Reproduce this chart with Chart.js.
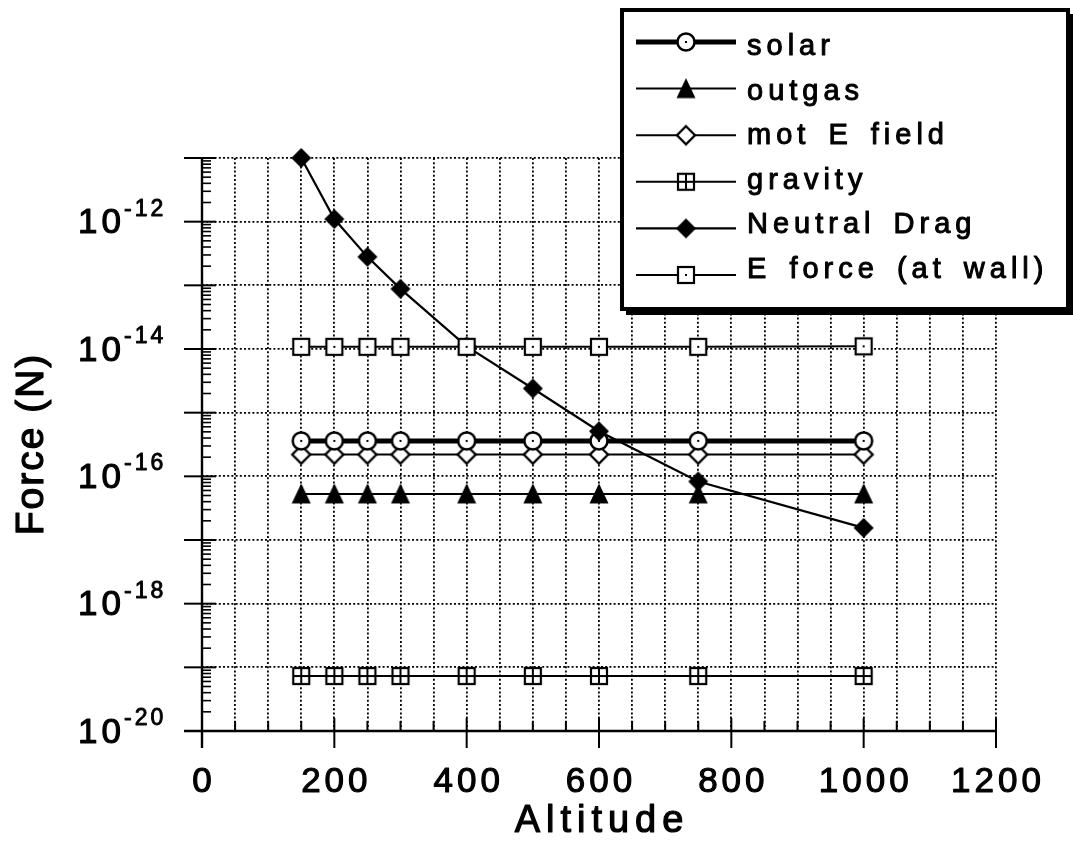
<!DOCTYPE html>
<html><head><meta charset="utf-8">
<script src="https://cdn.jsdelivr.net/npm/chart.js@4.4.1/dist/chart.umd.min.js"></script>
<style>html,body{margin:0;padding:0;background:#fff;overflow:hidden}canvas{display:block}</style>
</head><body>
<canvas id="c" width="1073" height="841"></canvas>
<script>
// ---- data ----
const altitude = [150, 200, 250, 300, 400, 500, 600, 750, 1000];
const solar = [3.6e-16, 3.6e-16, 3.6e-16, 3.6e-16, 3.6e-16, 3.6e-16, 3.6e-16, 3.6e-16, 3.6e-16];
const outgas = [5.3e-17, 5.3e-17, 5.3e-17, 5.3e-17, 5.3e-17, 5.3e-17, 5.3e-17, 5.3e-17, 5.3e-17];
const motEField = [2.2e-16, 2.2e-16, 2.2e-16, 2.2e-16, 2.2e-16, 2.2e-16, 2.2e-16, 2.2e-16, 2.2e-16];
const gravity = [7.3e-20, 7.3e-20, 7.3e-20, 7.3e-20, 7.3e-20, 7.3e-20, 7.3e-20, 7.3e-20, 7.3e-20];
const neutralDrag = [1.0e-11, 1.1e-12, 2.8e-13, 8.8e-14, 1.1e-14, 2.4e-15, 5.1e-16, 8.3e-17, 1.55e-17];
const eForceWall = [1.08e-14, 1.08e-14, 1.08e-14, 1.08e-14, 1.08e-14, 1.08e-14, 1.08e-14, 1.08e-14, 1.1e-14];
const seriesNames = ['solar', 'outgas', 'mot E field', 'gravity', 'Neutral Drag', 'E force (at wall)'];
const xTickLabels = [0, 200, 400, 600, 800, 1000, 1200];
const yTickBase = '10';
const yTickExponents = [-12, -14, -16, -18, -20];
const xTitle = 'Altitude';
const yTitle = 'Force (N)';

const FONT = '"Liberation Sans", Arial, Helvetica, sans-serif';

// ---- marker images ----
function mk(size, draw) {
  const c = document.createElement('canvas');
  c.width = size; c.height = size;
  const g = c.getContext('2d');
  g.strokeStyle = '#000'; g.fillStyle = '#000';
  draw(g, size / 2);
  return c;
}
const mCircle = mk(22, (g, m) => {
  g.beginPath(); g.arc(m, m, 8.5, 0, Math.PI * 2);
  g.fillStyle = '#fff'; g.fill(); g.lineWidth = 2.5; g.stroke();
  g.fillStyle = '#000'; g.fillRect(m - 1, m - 1, 2, 2);
});
const mTriangle = mk(24, (g, m) => {
  g.beginPath(); g.moveTo(m, m - 10.5); g.lineTo(m + 9.5, m + 9.5); g.lineTo(m - 9.5, m + 9.5); g.closePath(); g.fill();
});
const mDiamondOpen = mk(24, (g, m) => {
  g.beginPath(); g.moveTo(m, m - 9); g.lineTo(m + 9, m); g.lineTo(m, m + 9); g.lineTo(m - 9, m); g.closePath();
  g.fillStyle = '#fff'; g.fill(); g.lineWidth = 2.3; g.stroke();
});
const mSquareCross = mk(22, (g, m) => {
  g.fillStyle = '#fff'; g.fillRect(m - 8, m - 8, 16, 16);
  g.lineWidth = 2.2; g.strokeRect(m - 8, m - 8, 16, 16);
  g.beginPath(); g.moveTo(m, m - 8); g.lineTo(m, m + 8); g.moveTo(m - 8, m); g.lineTo(m + 8, m); g.lineWidth = 2; g.stroke();
});
const mDiamondFilled = mk(24, (g, m) => {
  g.beginPath(); g.moveTo(m, m - 10); g.lineTo(m + 10, m); g.lineTo(m, m + 10); g.lineTo(m - 10, m); g.closePath(); g.fill();
});
const mSquareDot = mk(22, (g, m) => {
  g.fillStyle = '#fff'; g.fillRect(m - 8, m - 8, 16, 16);
  g.lineWidth = 2.2; g.strokeRect(m - 8, m - 8, 16, 16);
  g.fillStyle = '#000'; g.fillRect(m - 1, m - 1, 2, 2);
});
const markers = [mCircle, mTriangle, mDiamondOpen, mSquareCross, mDiamondFilled, mSquareDot];
const lineWidths = [5, 2, 2, 2, 2.2, 2];
const drawOrder = [2, 4, 3, 5, 1, 0];
const seriesValues = [solar, outgas, motEField, gravity, neutralDrag, eForceWall];

const datasets = seriesNames.map((name, i) => ({
  label: name,
  data: altitude.map((a, j) => ({ x: a, y: seriesValues[i][j] })),
  borderColor: '#000',
  borderWidth: lineWidths[i],
  pointStyle: markers[i],
  pointRadius: 9,
  pointHoverRadius: 9,
  tension: 0,
  fill: false,
  clip: false,
  order: drawOrder[i]
}));

function boldText(ctx, s, x, y, w) {
  ctx.lineWidth = w;
  ctx.strokeText(s, x, y);
  ctx.fillText(s, x, y);
}

// ---- decoration plugins ----
const axesPlugin = {
  id: 'axesDecor',
  afterDraw(chart) {
    const { ctx, chartArea: a, scales: { x, y } } = chart;
    const x0 = x.getPixelForValue(0);
    const yb = y.getPixelForValue(1e-20);
    ctx.save();
    ctx.strokeStyle = '#000'; ctx.fillStyle = '#000';
    ctx.lineWidth = 2.4;
    ctx.beginPath(); ctx.moveTo(x0, a.top); ctx.lineTo(x0, yb + 17); ctx.stroke();
    ctx.beginPath(); ctx.moveTo(x0 - 18, yb); ctx.lineTo(a.right, yb); ctx.stroke();
    // x ticks
    ctx.lineWidth = 2;
    x.ticks.forEach(t => {
      const px = x.getPixelForValue(t.value);
      const major = xTickLabels.includes(t.value);
      ctx.beginPath();
      ctx.moveTo(px, yb - (major ? 13 : 10));
      ctx.lineTo(px, yb + (major ? 17 : 0));
      ctx.stroke();
    });
    // y ticks
    for (let e = -20; e <= -11; e++) {
      const py = y.getPixelForValue(Math.pow(10, e));
      ctx.lineWidth = 2;
      ctx.beginPath(); ctx.moveTo(x0 - 18, py); ctx.lineTo(x0 + 14, py); ctx.stroke();
      if (e < -11) {
        for (let k = 2; k <= 9; k++) {
          const pm = y.getPixelForValue(k * Math.pow(10, e));
          ctx.lineWidth = 1.6;
          ctx.beginPath(); ctx.moveTo(x0, pm); ctx.lineTo(x0 + 9, pm); ctx.stroke();
        }
      }
    }
    ctx.lineJoin = 'round';
    // x labels
    ctx.font = `35px ${FONT}`;
    ctx.letterSpacing = '4px';
    ctx.textAlign = 'center'; ctx.textBaseline = 'alphabetic';
    xTickLabels.forEach(v => {
      boldText(ctx, String(v), x.getPixelForValue(v) + 2, yb + 61, 1.1);
    });
    // y labels
    yTickExponents.forEach(e => {
      const py = y.getPixelForValue(Math.pow(10, e));
      ctx.textAlign = 'left';
      ctx.font = `35px ${FONT}`;
      ctx.letterSpacing = '4px';
      boldText(ctx, yTickBase, 78, py + 11.5, 1.1);
      ctx.font = `23px ${FONT}`;
      ctx.letterSpacing = '3px';
      boldText(ctx, String(e), 124, py - 6, 0.9);
    });
    // titles
    ctx.font = `38px ${FONT}`;
    ctx.letterSpacing = '6px';
    ctx.textAlign = 'center';
    boldText(ctx, xTitle, (a.left + a.right) / 2 + 3, 832, 1.2);
    ctx.save();
    ctx.translate(43, 444);
    ctx.rotate(-Math.PI / 2);
    ctx.font = `39px ${FONT}`;
    ctx.letterSpacing = '2px';
    boldText(ctx, yTitle, 0, 0, 1.2);
    ctx.restore();
    ctx.restore();
  }
};

const legendPlugin = {
  id: 'boxLegend',
  afterDraw(chart) {
    const ctx = chart.ctx;
    ctx.save();
    // shadow
    ctx.fillStyle = '#000';
    ctx.fillRect(626, 309, 447, 6);
    ctx.fillRect(1068, 14, 5, 300);
    ctx.fillStyle = '#fff';
    ctx.fillRect(622, 10, 446, 299);
    ctx.strokeStyle = '#000'; ctx.lineWidth = 4;
    ctx.strokeRect(622, 10, 446, 299);
    ctx.lineJoin = 'round';
    seriesNames.forEach((name, i) => {
      const ly = 42 + i * 46.6;
      ctx.lineWidth = lineWidths[i];
      ctx.beginPath(); ctx.moveTo(636, ly); ctx.lineTo(736, ly); ctx.stroke();
      const m = markers[i];
      ctx.drawImage(m, 686 - m.width / 2, ly - m.height / 2);
      ctx.fillStyle = '#000';
      ctx.font = `29px ${FONT}`;
      ctx.letterSpacing = '5px';
      ctx.wordSpacing = '5px';
      ctx.textAlign = 'left'; ctx.textBaseline = 'alphabetic';
      boldText(ctx, name, 747, 55 + i * 44.6, 1.0);
    });
    ctx.restore();
  }
};

const gridColor = '#000';
new Chart(document.getElementById('c'), {
  type: 'line',
  data: { datasets },
  options: {
    responsive: false,
    animation: false,
    events: [],
    layout: { padding: { left: 202, right: 77, top: 158, bottom: 110 } },
    plugins: { legend: { display: false }, tooltip: { enabled: false } },
    scales: {
      x: {
        type: 'linear', min: 0, max: 1200,
        ticks: { display: false, stepSize: 50 },
        grid: { color: gridColor, lineWidth: 1.8, drawTicks: false },
        border: { display: false, dash: [2, 2.2] }
      },
      y: {
        type: 'logarithmic', min: 1e-20, max: 1e-11,
        afterBuildTicks: (scale) => {
          const t = [];
          for (let e = -20; e <= -11; e++) t.push({ value: Math.pow(10, e) });
          scale.ticks = t;
        },
        ticks: { display: false },
        grid: { color: gridColor, lineWidth: 1.8, drawTicks: false },
        border: { display: false, dash: [2, 2.2] }
      }
    }
  },
  plugins: [axesPlugin, legendPlugin]
});
</script>
</body></html>
